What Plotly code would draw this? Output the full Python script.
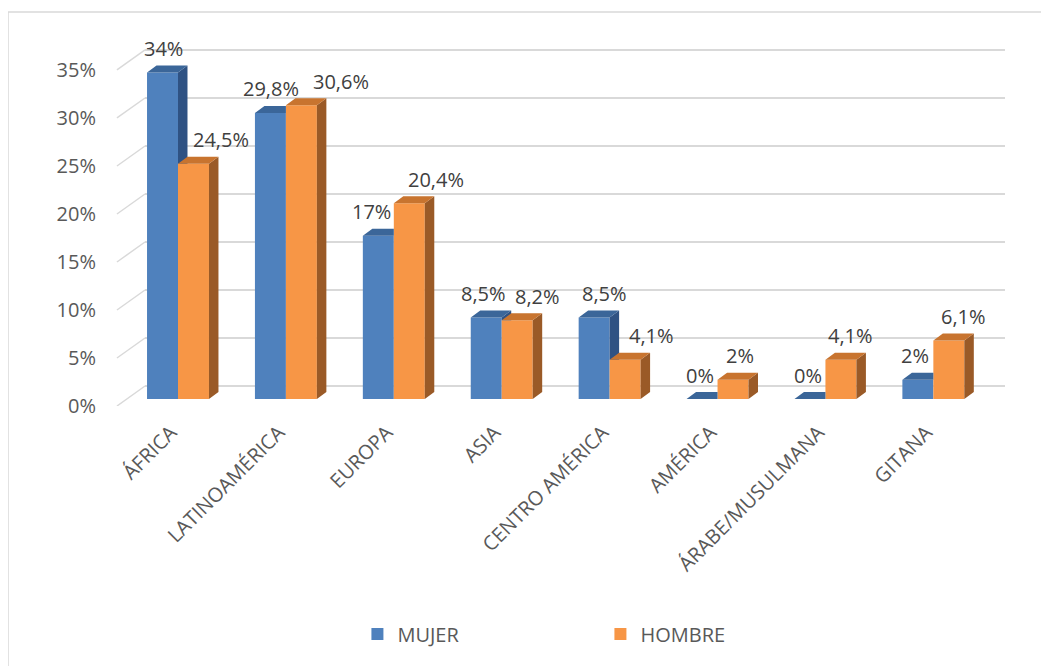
import plotly.graph_objects as go

# ---------------- data ----------------
categories = ["ÁFRICA", "LATINOAMÉRICA", "EUROPA", "ASIA", "CENTRO AMÉRICA",
              "AMÉRICA", "ÁRABE/MUSULMANA", "GITANA"]
mujer = [34, 29.8, 17, 8.5, 8.5, 0, 0, 2]
hombre = [24.5, 30.6, 20.4, 8.2, 4.1, 2, 4.1, 6.1]
y_ticks = [0, 5, 10, 15, 20, 25, 30, 35]
y_tick_text = ["0%", "5%", "10%", "15%", "20%", "25%", "30%", "35%"]

# ---------------- style / geometry ----------------
FONT = "Open Sans"
FS = 20
BLUE, BLUE_TOP, BLUE_SIDE = "#4F81BD", "#3B6699", "#2F5283"
ORANGE, ORANGE_TOP, ORANGE_SIDE = "#F79646", "#C8742F", "#9A5A27"
GRID = "#D9D9D9"
W = 0.287      # bar width (category units)
BASE = -1.354  # front plane of bars relative to back wall
DX, DY = 0.088, 0.73  # 3D depth offset (axis units)
label_shift_m = [1, 1, -7, -3, 10, -2, -2, -3]
label_shift_h = [28, 40, 27, 20, 26, 7, 10, 15]

idx = list(range(len(categories)))


def fmt(v):
    if float(v).is_integer():
        return f"{int(v)}%"
    return f"{v}".replace(".", ",") + "%"


def clip(poly, a, b, c):
    """keep part of polygon where a*x + b*y + c >= 0"""
    out = []
    n = len(poly)
    for k in range(n):
        p, q = poly[k], poly[(k + 1) % n]
        fp = a * p[0] + b * p[1] + c
        fq = a * q[0] + b * q[1] + c
        if fp >= 0:
            out.append(p)
        if (fp >= 0) != (fq >= 0):
            t = fp / (fp - fq)
            out.append((p[0] + t * (q[0] - p[0]), p[1] + t * (q[1] - p[1])))
    return out


def top_face(xl, xr, t):
    return [(xl, t), (xr, t), (xr + DX, t + DY), (xl + DX, t + DY)]


def side_face(xr, b, t):
    return [(xr, b), (xr, t), (xr + DX, t + DY), (xr + DX, b + DY)]


def poly_trace(polys, color):
    xs, ys = [], []
    for p in polys:
        if len(p) < 3:
            continue
        xs += [pt[0] for pt in p] + [p[0][0], None]
        ys += [pt[1] for pt in p] + [p[0][1], None]
    return go.Scatter(x=xs, y=ys, mode="lines", fill="toself", fillcolor=color,
                      line=dict(width=0, color=color), hoverinfo="skip",
                      showlegend=False)


fig = go.Figure()
fig.add_trace(go.Bar(x=idx, y=mujer, base=BASE, width=W, offset=-W, name="MUJER",
                     marker=dict(color=BLUE, line=dict(width=0))))
fig.add_trace(go.Bar(x=idx, y=hombre, base=BASE, width=W, offset=0, name="HOMBRE",
                     marker=dict(color=ORANGE, line=dict(width=0))))

blue_side, blue_top, or_side, or_top = [], [], [], []
for i, (m, h) in enumerate(zip(mujer, hombre)):
    bt, ot = BASE + m, BASE + h
    xl, xr = i - W, i
    # blue faces, clipped by the orange front face (x >= xr, y <= ot)
    blue_side.append(clip(side_face(xr, BASE, bt), 0, 1, -ot))
    tf = top_face(xl, xr, bt)
    blue_top.append(clip(tf, -1, 0, xr))
    blue_top.append(clip(clip(tf, 1, 0, -xr), 0, 1, -ot))
    # orange faces
    or_side.append(side_face(i + W, BASE, ot))
    or_top.append(top_face(i, i + W, ot))

fig.add_trace(poly_trace(blue_side, BLUE_SIDE))
fig.add_trace(poly_trace(blue_top, BLUE_TOP))
fig.add_trace(poly_trace(or_side, ORANGE_SIDE))
fig.add_trace(poly_trace(or_top, ORANGE_TOP))

annotations = []
for i, (m, h) in enumerate(zip(mujer, hombre)):
    annotations.append(dict(x=i - W / 2, y=BASE + m, text=fmt(m), showarrow=False,
                            xshift=label_shift_m[i], yshift=24,
                            font=dict(family=FONT, size=FS, color="#404040")))
    annotations.append(dict(x=i + W / 2, y=BASE + h, text=fmt(h), showarrow=False,
                            xshift=label_shift_h[i], yshift=24,
                            font=dict(family=FONT, size=FS, color="#404040")))

Y_FRONT = -2.083  # front floor edge offset (axis units)
shapes = []
for v in y_ticks:
    shapes.append(dict(type="line", xref="paper", yref="y", x0=-0.0326, y0=v + Y_FRONT,
                       x1=0, y1=v, line=dict(color=GRID, width=1.5), layer="below"))
# chart border (top and left visible)
shapes.append(dict(type="rect", xref="paper", yref="paper", x0=-0.1593, y0=-1.0,
                   x1=1.2, y1=1.0765, line=dict(color=GRID, width=1.5)))

fig.update_layout(
    width=1041, height=658,
    margin=dict(l=137, r=44, t=32, b=260, autoexpand=False),
    paper_bgcolor="white", plot_bgcolor="white",
    barmode="overlay",
    font=dict(family=FONT, size=FS, color="#595959"),
    showlegend=True,
    legend=dict(orientation="h", x=0.247, xanchor="left", y=-0.623, yanchor="middle",
                entrywidth=198, entrywidthmode="pixels",
                font=dict(family=FONT, size=FS, color="#595959")),
    annotations=annotations,
    shapes=shapes,
)
fig.update_xaxes(range=[-0.3058, 7.664], tickvals=idx, ticktext=categories,
                 tickangle=-45, showgrid=False, zeroline=False, showline=False,
                 ticks="", ticklabelstandoff=10, ticklabelshift=-7,
                 tickfont=dict(family=FONT, size=FS, color="#595959"))
fig.update_yaxes(range=[Y_FRONT, 36.04], tickvals=y_ticks, ticktext=y_tick_text,
                 showgrid=True, gridcolor=GRID, gridwidth=1.5, zeroline=False,
                 showline=False, ticks="", ticklabelshift=20, ticklabelstandoff=48,
                 tickfont=dict(family=FONT, size=FS, color="#595959"))

fig.write_html("out.html")
